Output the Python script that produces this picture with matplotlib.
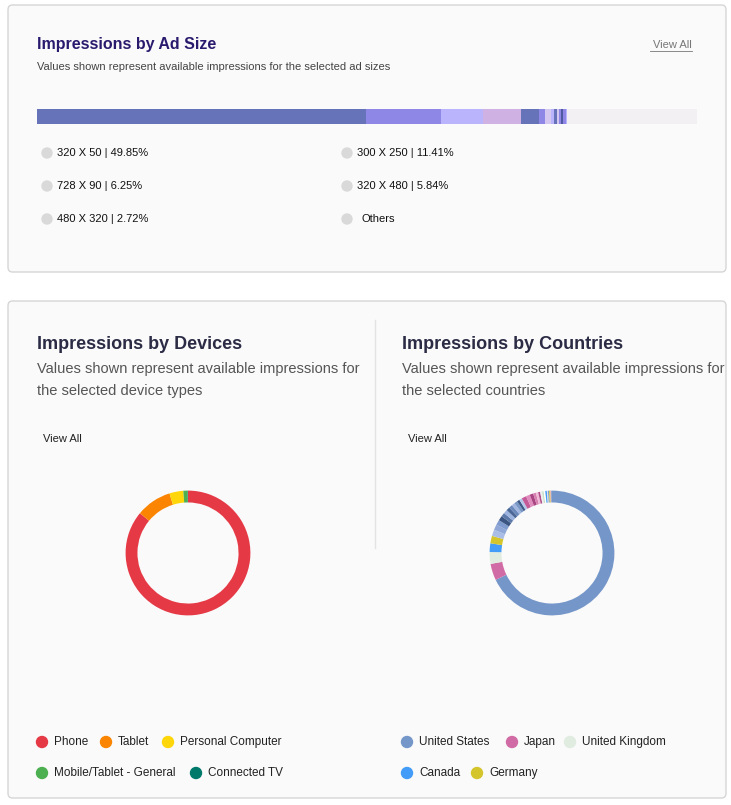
import numpy as np
import matplotlib.pyplot as plt
from matplotlib.patches import FancyBboxPatch, Ellipse

plt.rcParams['font.family'] = ['Liberation Sans', 'DejaVu Sans']

W, H = 731, 805

ad_sizes = ["320 X 50", "300 X 250", "728 X 90", "320 X 480", "480 X 320", "Others"]
ad_share = [49.85, 11.41, 6.25, 5.84, 2.72]
ad_colors = ["#6673b8", "#8f87e6", "#b9b4fb", "#cfb1e3", "#6673b8"]
sliver_share = [0.9, 0.9, 0.45, 0.45, 0.3, 0.3, 0.3, 0.45, 0.25]
sliver_colors = ["#8f87e6", "#d4c8f0", "#b9b4fb", "#6673b8", "#d4c8f0",
                 "#8f87e6", "#4f5aa0", "#8f87e6", "#b9b4fb"]

devices = ["Phone", "Tablet", "Personal Computer", "Mobile/Tablet - General", "Connected TV"]
device_share = [86.0, 9.2, 3.6, 1.1, 0.1]
device_colors = ["#e63946", "#fb8500", "#ffd60a", "#4caf50", "#00796b"]

countries = ["United States", "Japan", "United Kingdom", "Canada", "Germany"]
country_share = [66.7, 4.2, 3.0, 2.2, 1.9]
country_colors = ["#7496c9", "#d16ba5", "#e0ece0", "#439cf7", "#d4c52c"]
rest_share = [1.6, 1.4, 1.3, 1.2, 1.0, 1.0, 0.9, 0.9, 0.8, 0.8, 0.7, 0.7,
              1.2, 1.0, 0.9, 0.7, 0.6, 0.5, 0.5, 0.4, 0.4, 0.4, 0.3, 0.3, 0.3, 0.2, 0.2]
rest_colors = ["#a9bde6", "#8fa8d8", "#7f9bd0", "#3b5683", "#5c79aa", "#9cb3df",
               "#4a6797", "#6b88bb", "#a0b5e0", "#7896c6", "#3e5a88", "#b4c6ea",
               "#c55a98", "#e08bbd", "#a84582", "#d67fb0", "#f0b9d6", "#b04f8c",
               "#eeeeee", "#c8e0c8", "#ffffff", "#439cf7", "#e0e0e0", "#7496c9",
               "#d4c52c", "#f0a0c0", "#7496c9"]

fig = plt.figure(figsize=(W / 100, H / 100), dpi=100)
fig.patch.set_facecolor("white")


def px(x, y):
    return x / W, 1 - y / H


def card(x0, y0, x1, y1):
    a, b = px(x0, y1)
    fig.patches.append(FancyBboxPatch((a, b), (x1 - x0) / W, (y1 - y0) / H,
                                      boxstyle="round,pad=0,rounding_size=0.006",
                                      transform=fig.transFigure, fc="#fafafa",
                                      ec="#d6d6d6", lw=1, zorder=-5))


def dot(x, y, r, c):
    fig.patches.append(Ellipse(px(x, y), 2 * r / W, 2 * r / H,
                               transform=fig.transFigure, color=c))


def text(x, y, s, **kw):
    fig.text(*px(x, y), s, va="center", **kw)


card(8, 5, 726, 272)
card(8, 301, 726, 798)

text(37, 45, "Impressions by Ad Size", fontsize=11.5, fontweight="bold", color="#2a1a6e")
text(37, 67, "Values shown represent available impressions for the selected ad sizes",
     fontsize=8, color="#444444")
text(692, 45, "View All", fontsize=8, color="#777777", ha="right")
fig.lines.append(plt.Line2D([650 / W, 692 / W], [1 - 51 / H] * 2,
                            transform=fig.transFigure, color="#777777", lw=0.6))

# stacked bar
axb = fig.add_axes([37 / W, 1 - 124 / H, 660 / W, 15 / H], zorder=5)
axb.set_xlim(0, 100)
axb.set_ylim(0, 1)
axb.axis("off")
axb.barh(0.5, 100, height=1, color="#f2f0f3", lw=0)
left = 0
for v, c in zip(ad_share + sliver_share, ad_colors + sliver_colors):
    axb.barh(0.5, v, left=left, height=1, color=c, lw=0)
    left += v

ad_labels = [f"{n} | {v:.2f}%" for n, v in zip(ad_sizes, ad_share)] + ["Others"]
pos = [(42, 153), (342, 153), (42, 186), (342, 186), (42, 219), (342, 219)]
for (x, y), lab in zip(pos, ad_labels):
    dot(x + 5, y, 5, "#d9d9d9")
    off = 19 if lab == "Others" else 15
    text(x + off, y, lab, fontsize=8, color="#111111")

# divider
fig.lines.append(plt.Line2D([375 / W] * 2, [1 - 320 / H, 1 - 548 / H],
                            transform=fig.transFigure, color="#e3e3e3", lw=1))

for x0, title, sub, cx, labels, vals, cols in [
        (37, "Impressions by Devices", "the selected device types", 188,
         devices, device_share, device_colors),
        (402, "Impressions by Countries", "the selected countries", 552,
         countries, country_share + rest_share, country_colors + rest_colors)]:
    text(x0, 344, title, fontsize=13, fontweight="bold", color="#2b2b45")
    text(x0, 369, "Values shown represent available impressions for",
         fontsize=10.5, color="#555555")
    text(x0, 391, sub, fontsize=10.5, color="#555555")
    text(x0 + 6, 439, "View All", fontsize=8, color="#222222")
    r = 78
    ax = fig.add_axes([(cx - r) / W, 1 - (553 + r) / H, 2 * r / W, 2 * r / H], zorder=5)
    ax.pie(vals, colors=cols, startangle=90, counterclock=False,
           wedgeprops=dict(width=0.19, lw=0))
    ax.set_aspect("equal")
    if x0 == 37:
        legpos = [(42, 742), (106, 742), (168, 742), (42, 773), (196, 773)]
    else:
        legpos = [(407, 742), (512, 742), (570, 742), (407, 773), (407 + 0, 773)]
        legpos[4] = (477, 773)
    for (x, y), lab, c in zip(legpos, labels, cols):
        dot(x, y, 5.5, c)
        text(x + 12, y, lab, fontsize=8.5, color="#222222")

fig.savefig("out.png", dpi=100)
